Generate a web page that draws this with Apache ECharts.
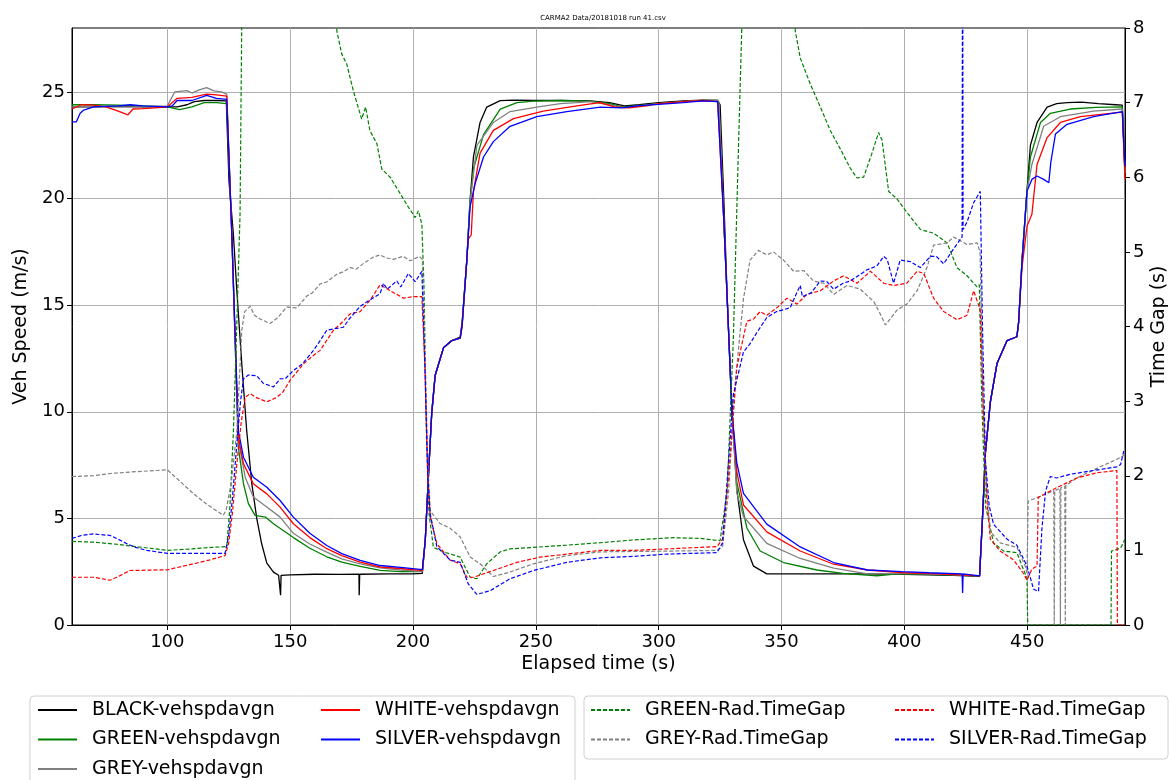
<!DOCTYPE html>
<html>
<head>
<meta charset="utf-8">
<script src="https://cdn.jsdelivr.net/npm/echarts@6/dist/echarts.min.js"></script>
<style>
html,body{margin:0;padding:0;background:#fff;}
#chart{width:1169px;height:780px;}
</style>
</head>
<body>
<div id="chart"></div>
<script>
// ---------- DATA ----------
const titleText = 'CARMA2 Data/20181018 run 41.csv';
const xTicks = [100,150,200,250,300,350,400,450];
const ySpeedTicks = [0,5,10,15,20,25];
const yGapTicks = [0,1,2,3,4,5,6,7,8];

const blackSpd = [[61.2,24.3],[70,24.3],[80,24.32],[90,24.3],[100,24.3],[104,24.3],[108,24.4],[111,24.55],[115,24.6],[120,24.6],[124,24.58],[125.1,20.8],[126.9,18.3],[128.2,15.84],[130.3,12.25],[132.3,9.12],[134.4,6.62],[136.4,5.0],[138.4,3.81],[140.5,2.9],[143.2,2.48],[145.3,2.33],[146,2.3],[146.1,1.4],[146.3,2.33],[150,2.35],[160,2.38],[170,2.37],[178,2.38],[178.1,1.4],[178.3,2.38],[190,2.4],[200,2.4],[203.8,2.42],[205,4.0],[206.5,7.5],[207.6,9.9],[209,11.7],[212.4,13.0],[215.8,13.34],[219.2,13.5],[220,14.2],[221.9,17.1],[223.2,19.9],[224.6,21.95],[227.3,23.57],[230,24.29],[235.5,24.59],[241,24.62],[250,24.6],[260,24.6],[272,24.58],[280,24.5],[286,24.35],[292,24.4],[300,24.5],[310,24.58],[318,24.62],[324,24.6],[325,24.4],[326.5,20],[328,15],[329.8,10.2],[331.8,6.36],[334.5,4.0],[338.6,2.76],[344,2.4],[360,2.4],[380,2.4],[400,2.38],[420,2.33],[430.6,2.28],[432,5.5],[433,8.1],[435,10.47],[437.7,12.26],[441.8,13.34],[445.8,13.52],[446.5,14.2],[447.9,17.1],[449.9,20.34],[451.3,22.5],[454,23.57],[458.1,24.29],[462,24.45],[466.2,24.5],[472,24.52],[479,24.45],[486,24.4],[488.7,24.38],[489.8,21.2]];

const greenSpd = [[61.2,24.4],[70,24.4],[80,24.38],[90,24.35],[100,24.3],[105,24.17],[110,24.3],[115,24.5],[120,24.5],[124.2,24.45],[126.2,18.5],[128.9,8.34],[131,6.62],[133,5.69],[135.7,5.14],[139.9,5.06],[143.2,4.75],[151.3,4.1],[158,3.6],[164.9,3.2],[171,2.95],[178.5,2.75],[186.6,2.56],[195,2.5],[203.8,2.5],[205,4.0],[206.5,7.5],[207.6,9.9],[209,11.7],[212.4,13.0],[215.8,13.34],[219.2,13.45],[220,14.1],[221.9,17.1],[223.2,19.8],[224.6,21.4],[228.7,23.0],[235.5,24.2],[242.3,24.5],[249,24.57],[260,24.6],[272,24.57],[280,24.45],[285,24.3],[290,24.35],[300,24.45],[310,24.55],[318,24.6],[324,24.6],[324.5,24.5],[326.5,19],[328,15],[329.8,10],[331.8,6.7],[335.9,4.55],[341.3,3.47],[350.8,2.93],[364.4,2.58],[375,2.42],[388.8,2.31],[395,2.38],[400,2.4],[410,2.38],[420,2.35],[430.6,2.3],[432,5.5],[433,8.1],[435,10.47],[437.7,12.26],[441.8,13.34],[445.8,13.52],[446.5,14.2],[447.9,17.1],[449.9,20.34],[451.3,21.95],[455.4,23.57],[459.4,24.0],[467.5,24.2],[478,24.28],[488.7,24.3],[489.8,21.2]];

const greySpd = [[61.2,24.3],[70,24.32],[80,24.3],[90,24.3],[100,24.35],[103,25.0],[108,25.06],[110,24.95],[113,25.1],[116,25.2],[119,25.05],[122,25.0],[124.2,24.9],[126.2,18.5],[128.9,8.65],[131.7,6.93],[135,6.0],[140.5,5.53],[145.9,5.06],[151.3,4.3],[158,3.8],[164.9,3.42],[171,3.1],[178.5,2.87],[186.6,2.68],[195,2.58],[203.8,2.5],[205,4.0],[206.5,7.5],[207.6,9.9],[209,11.7],[212.4,13.0],[215.8,13.34],[219.2,13.45],[220,14.1],[221.9,17.1],[223.2,19.8],[226,22.5],[232.7,23.57],[239.5,24.08],[250.4,24.29],[260,24.45],[266.7,24.5],[272,24.55],[280,24.4],[286,24.25],[292,24.35],[300,24.45],[310,24.55],[318,24.6],[324,24.6],[324.5,24.5],[326.5,19],[328,15],[329.8,10],[331.8,6.2],[334.5,5.09],[344,3.83],[357.6,3.12],[371.2,2.67],[385,2.4],[400,2.42],[415,2.38],[430.6,2.3],[432,5.5],[433,8.1],[435,10.47],[437.7,12.26],[441.8,13.34],[445.8,13.52],[446.5,14.2],[447.9,17.1],[449.9,20.34],[451.9,21.6],[456.7,23.39],[463.5,23.84],[477,24.1],[488.7,24.2],[489.8,21.2]];

const whiteSpd = [[61.2,24.2],[65,24.4],[70,24.38],[75,24.3],[80,24.1],[84,23.93],[86,24.2],[90,24.22],[95,24.25],[100,24.3],[104,24.7],[110,24.75],[116,24.9],[120,24.86],[124.2,24.8],[126.2,18.5],[128.9,8.8],[131,7.56],[135,6.62],[140.5,6.15],[145.9,5.53],[151.3,4.75],[158,4.1],[164.9,3.58],[171,3.25],[178.5,2.95],[186.6,2.72],[195,2.65],[203.8,2.55],[205,4.0],[206.5,7.5],[207.6,9.9],[209,11.7],[212.4,13.0],[215.8,13.34],[219.2,13.45],[220,14.0],[221.5,16.5],[222.5,18.1],[223.7,18.3],[224.6,20.34],[227.3,22.13],[232.7,23.2],[240.9,23.75],[253,24.1],[266.7,24.35],[276,24.5],[282,24.3],[288,24.25],[295,24.35],[300,24.45],[310,24.55],[318,24.6],[324,24.55],[324.5,24.5],[326.5,19],[328,15],[329.8,10],[331.8,7.2],[334.5,5.63],[344,4.37],[357.6,3.47],[371.2,2.85],[385,2.58],[400,2.45],[415,2.4],[430.6,2.3],[432,5.5],[433,8.1],[435,10.47],[437.7,12.26],[441.8,13.34],[445.8,13.52],[446.5,14.2],[447.9,16.8],[449.9,18.7],[451.9,19.26],[454,21.6],[458.1,22.86],[463.5,23.57],[471.6,23.84],[480,23.95],[488.7,24.05],[489.8,20.9]];

const silverSpd = [[61.2,23.6],[63,23.6],[64.5,24.0],[66,24.15],[70,24.3],[80,24.35],[85,24.4],[90,24.35],[100,24.3],[102,24.35],[104,24.6],[110,24.6],[116,24.84],[120,24.7],[124.2,24.65],[126.2,18.5],[128.9,9.1],[131,7.87],[135,6.93],[140.5,6.46],[145.9,5.84],[151.3,5.06],[158,4.3],[164.9,3.73],[171,3.35],[178.5,3.03],[186.6,2.79],[195,2.7],[203.8,2.6],[205,4.0],[206.5,7.5],[207.6,9.9],[209,11.7],[212.4,13.0],[215.8,13.34],[219.2,13.45],[220,14.1],[221.9,17.1],[223.2,19.6],[225.3,20.7],[228.7,21.95],[232.7,22.67],[239.5,23.39],[250.4,23.84],[262.6,24.08],[276.2,24.29],[285,24.25],[291,24.35],[300,24.42],[310,24.5],[318,24.58],[324,24.55],[324.5,24.5],[326.5,19],[328,15],[329.8,10],[331.8,7.6],[334.5,6.17],[344,4.73],[357.6,3.66],[371.2,2.93],[385,2.58],[399,2.5],[410,2.45],[423.5,2.4],[423.7,1.5],[423.9,2.4],[430.6,2.3],[432,5.5],[433,8.1],[435,10.47],[437.7,12.26],[441.8,13.34],[445.8,13.52],[446.5,14.2],[447.9,17.1],[449.9,20.34],[451.9,20.9],[454,21.06],[456.7,20.9],[458.8,20.74],[459.6,21.7],[461.5,23.03],[466.2,23.48],[477,23.84],[488.7,24.08],[489.8,21.5]];

const greenGap = [[61.2,1.12],[70,1.11],[80,1.08],[90,1.04],[100,1.0],[110,1.02],[118,1.04],[124.2,1.05],[125.5,1.6],[126.9,2.6],[128.2,3.95],[129.6,5.5],[130.3,8.1],[131,9.5],[168,9.5],[169,7.96],[171,7.65],[173,7.52],[175.7,7.16],[179.1,6.78],[180.7,6.94],[182.5,6.62],[185.3,6.45],[187.3,6.11],[190.7,6.0],[194.8,5.78],[198.1,5.6],[200.9,5.46],[202.2,5.55],[203.6,5.37],[204.5,4.5],[205.5,2.5],[206.5,1.5],[208.3,1.04],[212.4,0.98],[219.2,0.91],[220.5,0.82],[223.3,0.64],[226,0.62],[230,0.82],[235.5,0.98],[239.5,1.02],[249,1.04],[262.6,1.07],[279,1.11],[289.8,1.14],[306,1.17],[317,1.16],[325,1.13],[327.9,1.81],[330.4,3.86],[332.5,6.43],[333.9,8.1],[335,9.5],[354,9.5],[355.6,7.96],[357.6,7.6],[361.7,7.25],[365.8,6.94],[369.8,6.63],[373.9,6.38],[378,6.12],[380.7,5.99],[383.4,6.0],[386.8,6.32],[389.5,6.6],[390.9,6.5],[393.6,5.81],[397,5.71],[401,5.53],[406.5,5.3],[411.9,5.25],[417.4,5.12],[421.4,4.79],[425.5,4.68],[429.6,4.53],[430.5,4.56],[431.5,3.0],[433,1.6],[436.3,1.1],[440.4,0.99],[445.8,0.97],[447.9,0.79],[449.9,0.63],[450.2,0],[484.1,0],[484.3,0.99],[488,1.03],[489.8,1.15]];

const greyGap = [[61.2,1.99],[70,2.0],[76.7,2.03],[85,2.05],[90.2,2.06],[100,2.08],[105,1.93],[110.6,1.76],[116,1.62],[122.8,1.47],[124,1.55],[126,1.9],[128.3,2.6],[130.3,3.95],[131.5,4.2],[133.7,4.27],[135.5,4.15],[137.8,4.1],[141.8,4.04],[145,4.12],[148.6,4.26],[152.7,4.25],[156.8,4.41],[159,4.45],[162.2,4.57],[165,4.6],[169,4.7],[172,4.74],[174.4,4.79],[177,4.77],[180,4.85],[183.9,4.93],[186.6,4.96],[189,4.92],[192,4.9],[196,4.94],[198.8,4.88],[202.6,4.94],[203.8,4.9],[205,3.5],[206,2.2],[207,1.53],[211,1.36],[215,1.3],[219.2,1.18],[223.3,0.91],[227.3,0.82],[232.7,0.65],[239.5,0.71],[249,0.82],[262.6,0.93],[276.2,0.98],[303.4,0.99],[323.7,1.0],[326,1.05],[328.5,1.8],[331,3.2],[334.5,4.37],[337.2,4.89],[340.6,5.02],[344,4.96],[346.7,5.0],[350.8,4.89],[354.9,4.74],[359,4.75],[363,4.61],[367.2,4.58],[371.2,4.43],[376.7,4.55],[382.1,4.5],[387.6,4.33],[390,4.18],[392.3,4.02],[397,4.22],[401,4.3],[405.2,4.48],[409.2,4.79],[411.9,5.09],[417.4,5.12],[420,5.2],[425.5,5.1],[429.6,5.12],[430.8,5.0],[432,3.0],[433.5,1.8],[435,1.25],[439,1.1],[445.8,1.04],[449.2,0.79],[449.9,0.7],[450.4,1.66],[455,1.72],[460.8,1.8],[461,0],[461.2,1.8],[463.3,1.83],[463.5,0],[463.7,1.84],[465.3,1.86],[465.5,0],[465.7,1.87],[470.2,1.97],[479.7,2.12],[486.5,2.22],[489.8,2.28]];

const whiteGap = [[61.2,0.64],[69.9,0.64],[76.7,0.6],[80,0.65],[84.8,0.73],[100,0.74],[110.6,0.82],[117,0.87],[123.5,0.93],[125,1.1],[126.5,1.5],[128.3,2.16],[130,2.7],[131.7,3.05],[133.7,3.1],[136,3.05],[140.5,2.99],[144.5,3.05],[147,3.12],[150,3.28],[155.4,3.5],[159,3.6],[162.2,3.68],[167.6,3.95],[171,4.05],[174.4,4.17],[178.5,4.2],[182.5,4.35],[186.6,4.56],[190.7,4.48],[196.1,4.38],[200.2,4.4],[203.6,4.4],[204.8,3.5],[206,2.0],[207,1.45],[209.7,1.09],[215.1,0.87],[219.2,0.82],[221.9,0.64],[224.6,0.64],[232.7,0.73],[242.3,0.84],[251.8,0.91],[262.6,0.95],[276.2,1.0],[289.8,1.0],[303.4,1.02],[323.7,1.05],[326,1.15],[328.5,2.0],[331.8,3.45],[335.9,4.07],[338.6,4.1],[341.3,4.2],[344,4.15],[348.1,4.25],[352.2,4.38],[356.3,4.3],[360.3,4.43],[365.8,4.48],[371.2,4.61],[375.3,4.68],[380.7,4.58],[386.2,4.74],[391.6,4.58],[395.6,4.55],[401,4.58],[405.2,4.74],[407.9,4.71],[411.9,4.38],[416,4.2],[421.4,4.09],[425.5,4.15],[428.2,4.48],[430.9,4.22],[432,3.0],[433.5,1.7],[435,1.15],[439,0.99],[444.5,0.87],[448.5,0.69],[449.9,0.6],[451.9,0.75],[454,0.79],[454.5,1.71],[462,1.84],[470.2,1.97],[478.3,2.04],[486.5,2.07],[486.7,0],[489.8,0]];

const silverGap = [[61.2,1.16],[65,1.2],[69.9,1.22],[76.7,1.2],[80,1.15],[83.5,1.09],[87,1.04],[91.6,1.0],[100,0.96],[110,0.96],[123.5,0.96],[125,1.2],[126.5,1.7],[128.3,2.43],[129.8,3.0],[131,3.3],[133,3.35],[136.4,3.34],[139,3.24],[143.2,3.19],[146,3.3],[148,3.3],[151.3,3.41],[155,3.5],[159.5,3.68],[162,3.8],[164.9,3.95],[168,3.97],[171.7,3.99],[174,4.1],[178.5,4.27],[181.2,4.33],[186.6,4.44],[188,4.58],[189.5,4.5],[193.4,4.61],[195,4.53],[198.1,4.71],[200.9,4.6],[203.6,4.74],[204.8,3.5],[206,2.0],[207,1.49],[209.7,1.05],[215.1,0.87],[219.2,0.84],[222.5,0.55],[226,0.41],[231.4,0.46],[239.5,0.62],[249,0.73],[262.6,0.84],[276.2,0.9],[289.8,0.92],[303.4,0.95],[323.7,0.97],[326,1.1],[328,2.0],[330.4,3.09],[334.5,3.66],[337,3.76],[340,3.92],[344,4.12],[348,4.2],[353.5,4.25],[355.5,4.4],[357.6,4.55],[358.5,4.4],[362,4.45],[365.8,4.61],[368.5,4.6],[371.2,4.5],[375,4.58],[378,4.61],[384.8,4.76],[388.8,4.81],[391.6,4.94],[393,4.9],[395.6,4.58],[398.3,4.89],[402.4,4.87],[406.5,4.79],[410.6,4.94],[413,4.94],[416,4.84],[420,5.04],[423.5,5.2],[423.7,10],[423.9,5.3],[425.5,5.4],[428.2,5.66],[430.9,5.81],[431.8,4.0],[433,2.2],[434.5,1.6],[436.3,1.35],[441.8,1.15],[445.8,1.07],[449.9,0.79],[452.6,0.48],[454.6,0.45],[456,1.3],[457.5,1.8],[459.4,1.99],[462,1.97],[467.5,2.02],[477,2.07],[486.5,2.12],[488,2.15],[489.3,2.33]];

// ---------- CHART ----------
const FONT = 'DejaVu Sans';
const chart = echarts.init(document.getElementById('chart'), null, {renderer:'canvas'});

function solid(name, data, color){
  return {name, type:'line', data, xAxisIndex:0, yAxisIndex:0, showSymbol:false, symbol:'none',
    lineStyle:{color, width:1.3}, itemStyle:{color}, animation:false, clip:true};
}
function dashed(name, data, color){
  return {name, type:'line', data, xAxisIndex:0, yAxisIndex:1, showSymbol:false, symbol:'none',
    lineStyle:{color, width:1.2, type:[4,2]}, itemStyle:{color}, animation:false, clip:true};
}
function legendCol(left, names){
  return {orient:'vertical', left, top:700, padding:0, data:names, itemWidth:39, itemHeight:14, itemGap:9.5,
    selectedMode:false, itemStyle:{opacity:0},
    textStyle:{fontFamily:FONT, fontSize:19, color:'#000', lineHeight:20, padding:[0,0,0,10]}};
}

const option = {
  animation:false,
  backgroundColor:'#fff',
  title:{text:titleText, left:598, top:10, textAlign:'center',
    textStyle:{fontFamily:FONT, fontSize:7, fontWeight:'normal', color:'#000'}},
  grid:{left:72, right:44, top:28, bottom:155, show:true, borderColor:'#000', borderWidth:1,
    backgroundColor:'transparent', containLabel:false, outerBoundsMode:'none'},
  xAxis:{type:'value', min:61.2, max:489.8, splitNumber:8,
    name:'Elapsed time (s)', nameLocation:'middle', nameGap:30, nameMoveOverlap:false,
    nameTextStyle:{fontFamily:FONT, fontSize:19, color:'#000'},
    axisLine:{show:true, onZero:false, lineStyle:{color:'#000', width:1}},
    axisTick:{show:true, length:5, customValues:xTicks, lineStyle:{color:'#000'}},
    axisLabel:{fontFamily:FONT, fontSize:18, color:'#000', margin:8, customValues:xTicks},
    splitLine:{show:true, lineStyle:{color:'#b0b0b0', width:1}}},
  yAxis:[
    {type:'value', min:0, max:28, interval:5, position:'left',
     name:'Veh Speed (m/s)', nameLocation:'middle', nameGap:41, nameMoveOverlap:false,
     nameTextStyle:{fontFamily:FONT, fontSize:19, color:'#000'},
     axisLine:{show:true, lineStyle:{color:'#000', width:1}},
     axisTick:{show:true, length:5, customValues:ySpeedTicks, lineStyle:{color:'#000'}},
     axisLabel:{fontFamily:FONT, fontSize:18, color:'#000', margin:7, customValues:ySpeedTicks},
     splitLine:{show:true, lineStyle:{color:'#b0b0b0', width:1}}},
    {type:'value', min:0, max:8, interval:1, position:'right',
     name:'Time Gap (s)', nameLocation:'middle', nameGap:25, nameMoveOverlap:false,
     nameTextStyle:{fontFamily:FONT, fontSize:19, color:'#000'},
     axisLine:{show:true, lineStyle:{color:'#000', width:1}},
     axisTick:{show:true, length:5, lineStyle:{color:'#000'}},
     axisLabel:{fontFamily:FONT, fontSize:18, color:'#000', margin:8, customValues:yGapTicks},
     splitLine:{show:false}}
  ],
  legend:[
    legendCol(37, ['BLACK-vehspdavgn','GREEN-vehspdavgn','GREY-vehspdavgn']),
    legendCol(320, ['WHITE-vehspdavgn','SILVER-vehspdavgn']),
    legendCol(590, ['GREEN-Rad.TimeGap','GREY-Rad.TimeGap']),
    legendCol(894, ['WHITE-Rad.TimeGap','SILVER-Rad.TimeGap'])
  ],
  graphic:[
    {type:'rect', left:29.5, top:695.5, shape:{width:545, height:100, r:4}, z:-1,
     style:{fill:'#fff', stroke:'#d0d0d0', lineWidth:1}},
    {type:'rect', left:583.5, top:695.5, shape:{width:584, height:63, r:4}, z:-1,
     style:{fill:'#fff', stroke:'#d0d0d0', lineWidth:1}}
  ],
  series:[
    solid('BLACK-vehspdavgn', blackSpd, '#000000'),
    solid('GREEN-vehspdavgn', greenSpd, '#008000'),
    solid('GREY-vehspdavgn', greySpd, '#808080'),
    solid('WHITE-vehspdavgn', whiteSpd, '#ff0000'),
    solid('SILVER-vehspdavgn', silverSpd, '#0000ff'),
    dashed('GREEN-Rad.TimeGap', greenGap, '#008000'),
    dashed('GREY-Rad.TimeGap', greyGap, '#808080'),
    dashed('WHITE-Rad.TimeGap', whiteGap, '#ff0000'),
    dashed('SILVER-Rad.TimeGap', silverGap, '#0000ff')
  ]
};
chart.setOption(option);
</script>
</body>
</html>
